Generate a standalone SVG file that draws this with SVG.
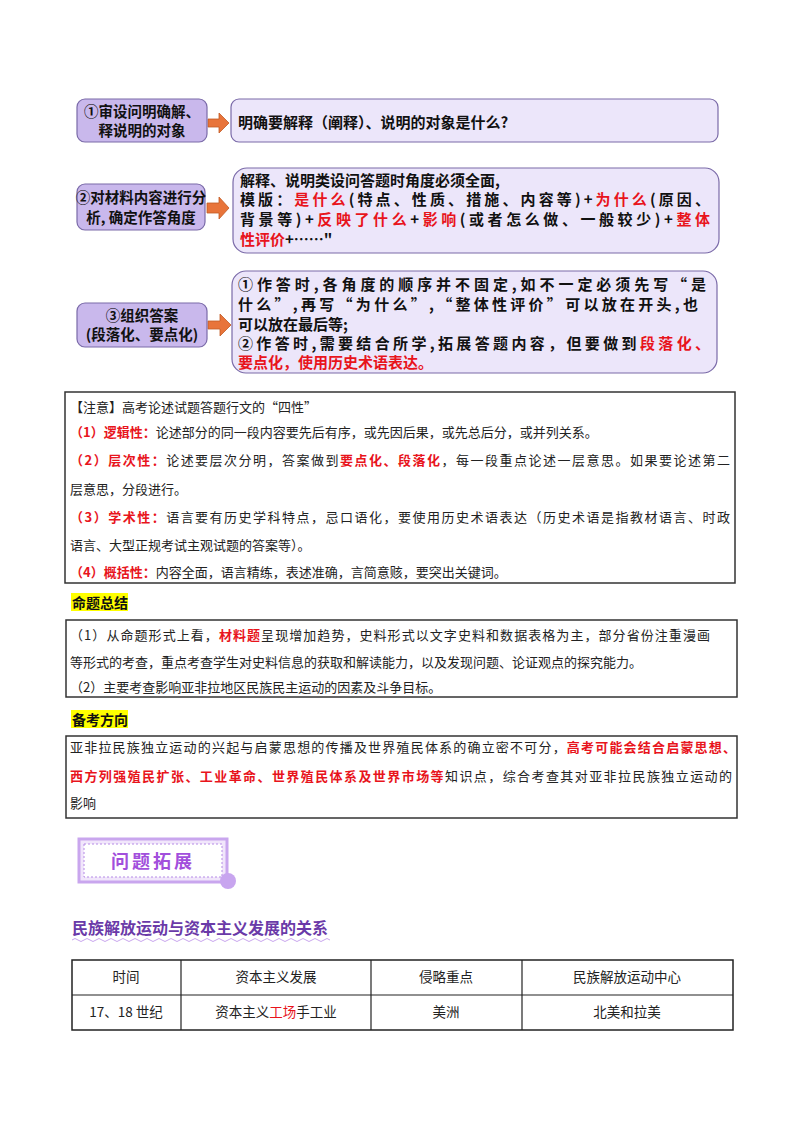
<svg xmlns="http://www.w3.org/2000/svg" width="800" height="1132" viewBox="0 0 800 1132">
<defs>
<style>
.lb{fill:#c9b8ec;stroke:#7a6aa8;stroke-width:1.2}
.rb{fill:#ece6fa;stroke:#7a6aa8;stroke-width:1.2}
.bt{font-family:"Noto Sans CJK SC",sans-serif;font-weight:bold;font-size:14.5px;fill:#111}
.bt2{font-family:"Noto Sans CJK SC",sans-serif;font-weight:bold;font-size:15px;fill:#111}
.r{fill:#e8141c}
.nt{font-family:"Noto Sans CJK SC",serif;font-size:13px;fill:#222}
.box{fill:none;stroke:#333;stroke-width:1.5}
.hl{fill:#ffff00}
.ht{font-family:"Noto Sans CJK SC",sans-serif;font-weight:bold;font-size:14px;fill:#111}
.tc{font-family:"Noto Sans CJK SC",serif;font-size:13.5px;fill:#222;text-anchor:middle}
.arr{fill:#e8743a;stroke:#c25a25;stroke-width:0.8}
</style>
</defs>
<rect width="800" height="1132" fill="#fff"/>
<g id="connectors">
<polygon class="arr" points="208,119 219,119 219,113 229,123 219,133 219,127 208,127"/>
<polygon class="arr" points="207,203 219,203 219,197 229,208 219,219 219,213 207,213"/>
<polygon class="arr" points="208,321 220,321 220,314 231,325 220,336 220,329 208,329"/>
</g>
<g id="n1">
<rect class="lb" x="77" y="99" width="130" height="43" rx="8"/>
<text class="bt" x="142" y="117" text-anchor="middle">①审设问明确解、</text>
<text class="bt" x="142" y="136" text-anchor="middle">释说明的对象</text>
</g>
<g id="n1r">
<rect class="rb" x="231" y="99" width="487" height="43" rx="8"/>
<text class="bt2" x="238" y="128" font-size="16">明确要解释（阐释）、说明的对象是什么?</text>
</g>
<g id="n2">
<rect class="lb" x="77" y="184" width="128" height="46" rx="8"/>
<text class="bt" x="141" y="203" text-anchor="middle" font-size="13.5">②对材料内容进行分</text>
<text class="bt" x="141" y="223" text-anchor="middle" font-size="13.5">析, 确定作答角度</text>
</g>
<g id="n2r">
<rect class="rb" x="233" y="168" width="486" height="85" rx="14"/>
<text class="bt2" x="240" y="186">解释、说明类设问答题时角度必须全面,</text>
<text class="bt2" x="240" y="205" textLength="470">模版：<tspan class="r">是什么</tspan>(特点、性质、措施、内容等)+<tspan class="r">为什么</tspan>(原因、</text>
<text class="bt2" x="240" y="225" textLength="470">背景等)+<tspan class="r">反映了什么</tspan>+<tspan class="r">影响</tspan>(或者怎么做、一般较少)+<tspan class="r">整体</tspan></text>
<text class="bt2" x="240" y="245"><tspan class="r">性评价</tspan>+……"</text>
</g>
<g id="n3">
<rect class="lb" x="77" y="303" width="130" height="44" rx="8"/>
<text class="bt" x="142" y="321" text-anchor="middle">③组织答案</text>
<text class="bt" x="142" y="340" text-anchor="middle">(段落化、要点化)</text>
</g>
<g id="n3r">
<rect class="rb" x="232" y="271" width="485" height="102" rx="14"/>
<text class="bt2" x="238" y="290" textLength="468">①作答时,各角度的顺序并不固定,如不一定必须先写“是</text>
<text class="bt2" x="238" y="310" textLength="460">什么”,再写“为什么”,“整体性评价”可以放在开头,也</text>
<text class="bt2" x="238" y="330">可以放在最后等;</text>
<text class="bt2" x="238" y="349" textLength="472">②作答时,需要结合所学,拓展答题内容，但要做到<tspan class="r">段落化、</tspan></text>
<text class="bt2" x="238" y="368"><tspan class="r">要点化，使用历史术语表达。</tspan></text>
</g>
<g id="note">
<rect class="box" x="65" y="392" width="670" height="191"/>
<text class="nt" x="70" y="412">【注意】高考论述试题答题行文的“四性”</text>
<text class="nt" x="70" y="437"><tspan class="r" font-weight="bold">（1）逻辑性：</tspan>论述部分的同一段内容要先后有序，或先因后果，或先总后分，或并列关系。</text>
<text class="nt" x="70" y="465" textLength="660"><tspan class="r" font-weight="bold">（2）层次性：</tspan>论述要层次分明，答案做到<tspan class="r" font-weight="bold">要点化、段落化</tspan>，每一段重点论述一层意思。如果要论述第二</text>
<text class="nt" x="70" y="494">层意思，分段进行。</text>
<text class="nt" x="70" y="522" textLength="660"><tspan class="r" font-weight="bold">（3）学术性：</tspan>语言要有历史学科特点，忌口语化，要使用历史术语表达（历史术语是指教材语言、时政</text>
<text class="nt" x="70" y="550">语言、大型正规考试主观试题的答案等）。</text>
<text class="nt" x="70" y="577"><tspan class="r" font-weight="bold">（4）概括性：</tspan>内容全面，语言精练，表述准确，言简意赅，要突出关键词。</text>
</g>
<g id="summary">
<rect class="hl" x="71" y="593" width="57" height="18"/>
<text class="ht" x="72" y="608">命题总结</text>
<rect class="box" x="66" y="620" width="671" height="77"/>
<text class="nt" x="70" y="640" textLength="640">（1）从命题形式上看，<tspan class="r" font-weight="bold">材料题</tspan>呈现增加趋势，史料形式以文字史料和数据表格为主，部分省份注重漫画</text>
<text class="nt" x="70" y="667">等形式的考查，重点考查学生对史料信息的获取和解读能力，以及发现问题、论证观点的探究能力。</text>
<text class="nt" x="70" y="692">（2）主要考查影响亚非拉地区民族民主运动的因素及斗争目标。</text>
</g>
<g id="direction">
<rect class="hl" x="71" y="710" width="57" height="18"/>
<text class="ht" x="72" y="725">备考方向</text>
<rect class="box" x="66" y="736" width="671" height="82"/>
<text class="nt" x="70" y="752" textLength="666">亚非拉民族独立运动的兴起与启蒙思想的传播及世界殖民体系的确立密不可分，<tspan class="r" font-weight="bold">高考可能会结合启蒙思想、</tspan></text>
<text class="nt" x="70" y="781" textLength="662"><tspan class="r" font-weight="bold">西方列强殖民扩张、工业革命、世界殖民体系及世界市场等</tspan>知识点，综合考查其对亚非拉民族独立运动的</text>
<text class="nt" x="70" y="808">影响</text>
</g>
<g id="badge">
<rect x="79" y="839" width="148" height="43" fill="#f1e6fb" stroke="#c9a6ee" stroke-width="3"/>
<rect x="84" y="844" width="138" height="33" fill="#fff" stroke="#b58ae6" stroke-width="1" stroke-dasharray="2,2"/>
<circle cx="228" cy="881" r="8" fill="#c8a5ef"/>
<text x="153" y="868" text-anchor="middle" font-family="'Noto Sans CJK SC',sans-serif" font-weight="bold" font-size="18" fill="#a24fdc" letter-spacing="3">问题拓展</text>
</g>
<g id="title">
<text x="72" y="934" font-family="'Noto Sans CJK SC',sans-serif" font-weight="bold" font-size="16" fill="#6a3aa8">民族解放运动与资本主义发展的关系</text>
<path d="M72,940 q3,-3 6,0 t6,0 t6,0 t6,0 t6,0 t6,0 t6,0 t6,0 t6,0 t6,0 t6,0 t6,0 t6,0 t6,0 t6,0 t6,0 t6,0 t6,0 t6,0 t6,0 t6,0 t6,0 t6,0 t6,0 t6,0 t6,0 t6,0 t6,0 t6,0 t6,0 t6,0 t6,0 t6,0 t6,0 t6,0 t6,0 t6,0 t6,0 t6,0 t6,0 t6,0 t6,0 t6,0" fill="none" stroke="#c9a6ee" stroke-width="1"/>
</g>
<g id="table">
<rect x="72" y="960" width="661" height="70" fill="none" stroke="#222" stroke-width="1.5"/>
<line x1="72" y1="995" x2="733" y2="995" stroke="#222" stroke-width="1.2"/>
<line x1="181" y1="960" x2="181" y2="1030" stroke="#222" stroke-width="1.2"/>
<line x1="371" y1="960" x2="371" y2="1030" stroke="#222" stroke-width="1.2"/>
<line x1="522" y1="960" x2="522" y2="1030" stroke="#222" stroke-width="1.2"/>
<text class="tc" x="126" y="982">时间</text>
<text class="tc" x="276" y="982">资本主义发展</text>
<text class="tc" x="446" y="982">侵略重点</text>
<text class="tc" x="627" y="982">民族解放运动中心</text>
<text class="tc" x="126" y="1017">17、18 世纪</text>
<text class="tc" x="276" y="1017">资本主义<tspan class="r">工场</tspan>手工业</text>
<text class="tc" x="446" y="1017">美洲</text>
<text class="tc" x="627" y="1017">北美和拉美</text>
</g>
</svg>
